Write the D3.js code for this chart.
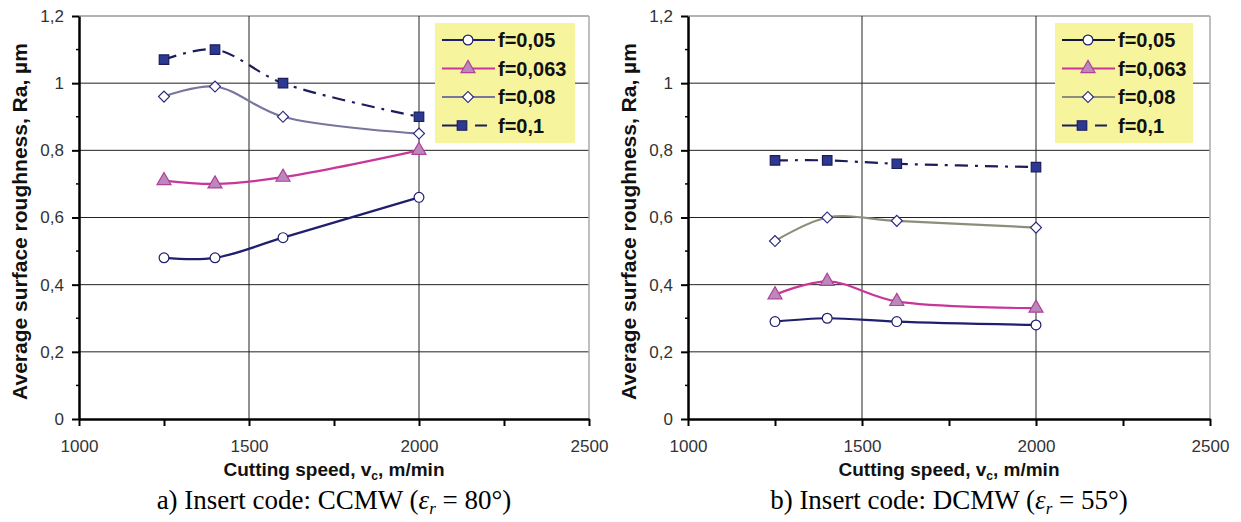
<!DOCTYPE html>
<html>
<head>
<meta charset="utf-8">
<script src="https://cdn.jsdelivr.net/npm/d3@7"></script>
<style>
  body { margin: 0; background: #fff; }
  svg { display: block; }
  text { font-family: "Liberation Sans", Arial, sans-serif; }
</style>
</head>
<body>
<script>
// cutting speeds (m/min) and feed labels
const speeds = [1250, 1400, 1600, 2000];
const feedLabels = ["f=0,05", "f=0,063", "f=0,08", "f=0,1"];

// Ra (µm) - insert CCMW
const ccmwF005 = [0.48, 0.48, 0.54, 0.66];
const ccmwF0063 = [0.71, 0.70, 0.72, 0.80];
const ccmwF008 = [0.96, 0.99, 0.90, 0.85];
const ccmwF01 = [1.07, 1.10, 1.00, 0.90];

// insert DCMW
const dcmwF005 = [0.29, 0.30, 0.29, 0.28];
const dcmwF0063 = [0.37, 0.41, 0.35, 0.33];
const dcmwF008 = [0.53, 0.60, 0.59, 0.57];
const dcmwF01 = [0.77, 0.77, 0.76, 0.75];

const xTicks = [1000, 1250, 1500, 1750, 2000, 2250, 2500];
const xLabels = [1000, 1500, 2000, 2500];
const yTicks = [0, 0.2, 0.4, 0.6, 0.8, 1, 1.2];
const yMinor = [0.1, 0.3, 0.5, 0.7, 0.9, 1.1];

const w = 1241, h = 522;

const svg = d3.select("body")
  .append("svg")
    .attr("width", w)
    .attr("height", h);

const panels = [
  { left: 79, right: 589, top: 16, bottom: 419, letter: "a)", code: "CCMW", angle: "80°",
    series: [ccmwF005, ccmwF0063, ccmwF008, ccmwF01],
    colors: ["#1f1f6e", "#c8369a", "#76769e", "#1c1c5c"],
    legendColors: ["#1f1f6e", "#c8369a", "#76769e", "#1c1c5c"],
    legendX: 435, legendW: 140 },
  { left: 688, right: 1210, top: 16, bottom: 419, letter: "b)", code: "DCMW", angle: "55°",
    series: [dcmwF005, dcmwF0063, dcmwF008, dcmwF01],
    colors: ["#1f1f6e", "#c8369a", "#8d8d7c", "#1c1c5c"],
    legendColors: ["#151530", "#c8369a", "#8d8d7c", "#1c1c5c"],
    legendX: 1055, legendW: 138 }
];

// marker + dash per feed
const styles = [
  { symbol: d3.symbolCircle, size: 75, fill: "#fff", stroke: "#1f1f6e", rotate: 0, dash: null },
  { symbol: d3.symbolTriangle, size: 85, fill: "#bb88bb", stroke: "#b0409a", rotate: 0, dash: null },
  { symbol: d3.symbolSquare, size: 60, fill: "#fff", stroke: "#2a2a80", rotate: 45, dash: null },
  { symbol: d3.symbolSquare, size: 90, fill: "#2b3990", stroke: "#1c1c5c", rotate: 0, dash: "13,7,3,7" }
];

const fmt = d => String(d3.format("~g")(d)).replace(".", ",");

panels.forEach(p => {
  const x = d3.scaleLinear().domain([1000, 2500]).range([p.left, p.right]);
  const y = d3.scaleLinear().domain([0, 1.2]).range([p.bottom, p.top]);
  const g = svg.append("g");

  // gridlines
  g.selectAll(".hgrid")
    .data(yTicks.filter(d => d > 0))
    .enter()
    .append("line")
      .attr("x1", p.left).attr("x2", p.right)
      .attr("y1", d => y(d)).attr("y2", d => y(d))
      .attr("stroke", d => d === 1.2 ? "#666" : "#222")
      .attr("stroke-width", 1);

  g.selectAll(".vgrid")
    .data([1500, 2000])
    .enter()
    .append("line")
      .attr("x1", d => x(d)).attr("x2", d => x(d))
      .attr("y1", p.top).attr("y2", p.bottom)
      .attr("stroke", "#222")
      .attr("stroke-width", 1);

  // right border
  g.append("line")
    .attr("x1", p.right).attr("x2", p.right)
    .attr("y1", p.top).attr("y2", p.bottom)
    .attr("stroke", "#aaa")
    .attr("stroke-width", 1.5);

  // axes
  const xAxis = g.append("g")
    .attr("transform", `translate(0,${p.bottom})`)
    .call(d3.axisBottom(x).tickValues(xTicks).tickSize(7).tickSizeOuter(0)
      .tickFormat(d => xLabels.includes(d) ? d : ""));
  xAxis.select(".domain").attr("stroke", "#000").attr("stroke-width", 2.5);
  xAxis.selectAll(".tick line").attr("stroke", "#000").attr("stroke-width", 2);
  xAxis.selectAll(".tick text")
    .attr("y", 21)
    .attr("fill", "#333")
    .style("font-size", "17px");

  const yAxis = g.append("g")
    .attr("transform", `translate(${p.left},0)`)
    .call(d3.axisLeft(y).tickValues(yTicks).tickSize(7).tickSizeOuter(0).tickFormat(fmt));
  yAxis.select(".domain").attr("stroke", "#000").attr("stroke-width", 2.5);
  yAxis.selectAll(".tick line").attr("stroke", "#000").attr("stroke-width", 2);
  yAxis.selectAll(".tick text")
    .attr("x", -15)
    .attr("fill", "#333")
    .style("font-size", "17px");

  g.selectAll(".minor")
    .data(yMinor)
    .enter()
    .append("line")
      .attr("x1", p.left - 3).attr("x2", p.left)
      .attr("y1", d => y(d)).attr("y2", d => y(d))
      .attr("stroke", "#000")
      .attr("stroke-width", 1.5);

  // series
  const line = d3.line()
    .x((d, i) => x(speeds[i]))
    .y(d => y(d))
    .curve(d3.curveCatmullRom);

  p.series.forEach((vals, k) => {
    g.append("path")
      .datum(vals)
      .attr("fill", "none")
      .attr("stroke", p.colors[k])
      .attr("stroke-width", 2.2)
      .attr("stroke-dasharray", styles[k].dash)
      .attr("d", line);
  });

  p.series.forEach((vals, k) => {
    const s = styles[k];
    g.selectAll(".m" + k)
      .data(vals)
      .enter()
      .append("path")
        .attr("transform", (d, i) => `translate(${x(speeds[i])},${y(d)}) rotate(${s.rotate})`)
        .attr("d", d3.symbol().type(s.symbol).size(s.size))
        .attr("fill", s.fill)
        .attr("stroke", s.stroke)
        .attr("stroke-width", 1.2);
  });

  // legend
  const legend = g.append("g")
    .attr("transform", `translate(${p.legendX},${p.top + 7})`);
  legend.append("rect")
    .attr("width", p.legendW)
    .attr("height", 120)
    .attr("fill", "#f6f59e");

  feedLabels.forEach((lab, k) => {
    const s = styles[k];
    const ly = 17 + k * 28.5;
    legend.append("line")
      .attr("x1", 7).attr("x2", 60)
      .attr("y1", ly).attr("y2", ly)
      .attr("stroke", p.legendColors[k])
      .attr("stroke-width", 2.2)
      .attr("stroke-dasharray", k === 3 ? "15,18,12,100" : null);
    legend.append("path")
      .attr("transform", `translate(${k === 3 ? 27 : 33},${ly}) rotate(${s.rotate})`)
      .attr("d", d3.symbol().type(s.symbol).size(s.size))
      .attr("fill", s.fill)
      .attr("stroke", s.stroke)
      .attr("stroke-width", 1.2);
    legend.append("text")
      .attr("x", 63)
      .attr("y", ly + 7)
      .attr("fill", "#111")
      .style("font-size", "20px")
      .style("font-weight", "bold")
      .text(lab);
  });

  // axis titles
  const xt = g.append("text")
    .attr("x", (p.left + p.right) / 2)
    .attr("y", p.bottom + 57)
    .attr("text-anchor", "middle")
    .attr("fill", "#111")
    .style("font-size", "19px")
    .style("font-weight", "bold");
  xt.append("tspan").text("Cutting speed, v");
  xt.append("tspan").attr("dy", 4).style("font-size", "12px").text("c");
  xt.append("tspan").attr("dy", -4).text(", m/min");

  g.append("text")
    .attr("transform", `translate(${p.left - 52},${(p.top + p.bottom) / 2 + 4}) rotate(-90)`)
    .attr("text-anchor", "middle")
    .attr("fill", "#111")
    .style("font-size", "21px")
    .style("font-weight", "bold")
    .text("Average surface roughness, Ra, µm");

  // caption
  const cap = g.append("text")
    .attr("x", (p.left + p.right) / 2)
    .attr("y", 509)
    .attr("text-anchor", "middle")
    .attr("fill", "#000")
    .style("font-family", "'Liberation Serif', 'Times New Roman', serif")
    .style("font-size", "27px");
  cap.append("tspan").text(p.letter + " Insert code: " + p.code + " (");
  cap.append("tspan").style("font-style", "italic").text("ε");
  cap.append("tspan").attr("dy", 5).style("font-style", "italic").style("font-size", "17px").text("r");
  cap.append("tspan").attr("dy", -5).text(" = " + p.angle + ")");
});
</script>
</body>
</html>
